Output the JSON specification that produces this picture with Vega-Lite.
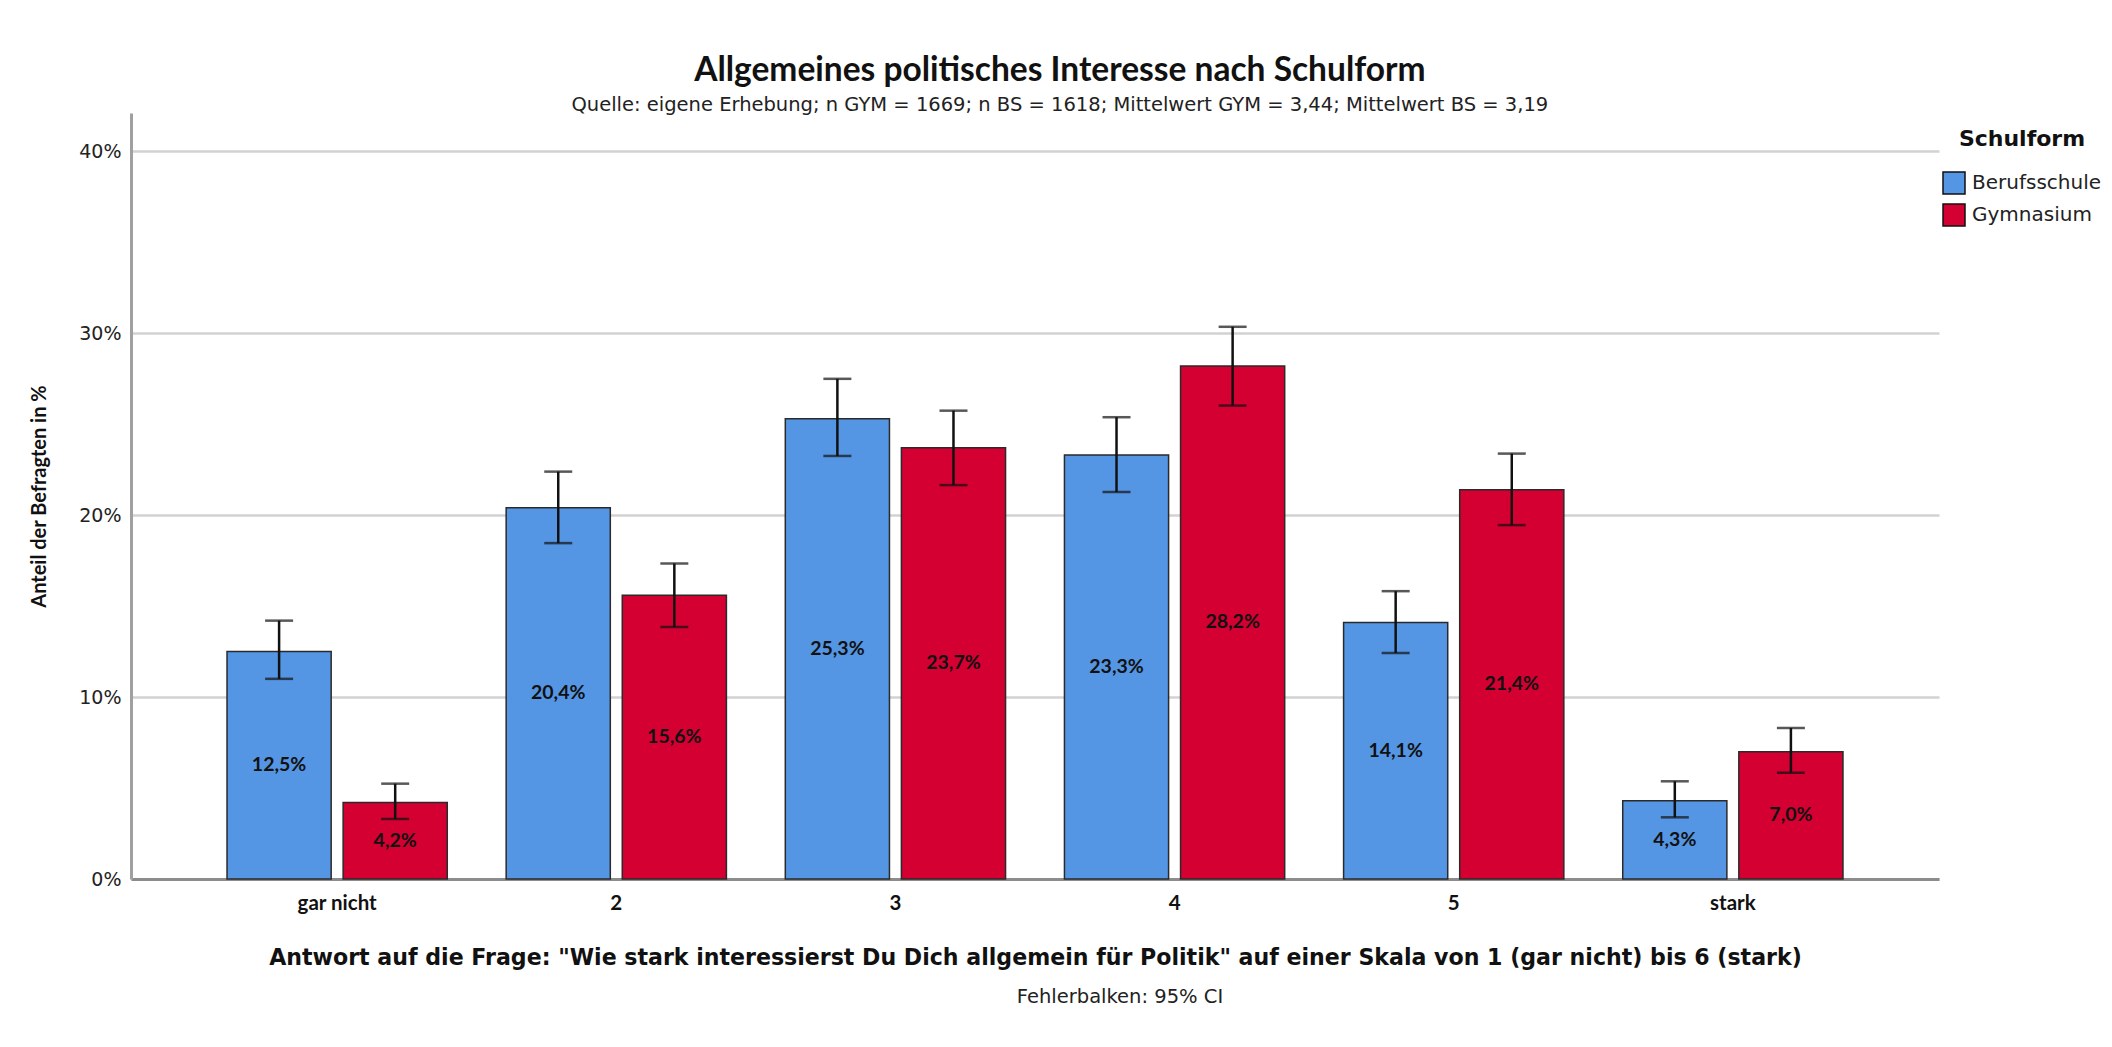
{
  "$schema": "https://vega.github.io/schema/vega-lite/v6.json",
  "padding": {"left": 29, "top": 53, "right": 8, "bottom": 10},
  "background": "white",
  "config": {
    "locale": {"number": {"decimal": ",", "thousands": ".", "grouping": [3], "currency": ["", " €"]}},
    "view": {"stroke": null},
    "font": "DejaVu Sans"
  },
  "title": {
    "text": "Allgemeines politisches Interesse nach Schulform",
    "subtitle": "Quelle: eigene Erhebung; n GYM = 1669; n BS = 1618; Mittelwert GYM = 3,44; Mittelwert BS = 3,19",
    "anchor": "middle",
    "frame": "bounds",
    "dx": -14,
    "font": "Lato",
    "fontWeight": "bold",
    "fontSize": 33.5,
    "color": "#111111",
    "subtitleFont": "DejaVu Sans",
    "subtitleFontSize": 19.5,
    "subtitleColor": "#222222",
    "subtitlePadding": 7.5,
    "offset": -2
  },
  "vconcat": [
    {
      "width": 1808,
      "height": 766,
      "title": {
        "text": "Fehlerbalken: 95% CI",
        "orient": "bottom",
        "anchor": "middle",
        "frame": "group",
        "dx": 85,
        "offset": 19,
        "font": "DejaVu Sans",
        "fontWeight": "normal",
        "fontSize": 19.5,
        "color": "#222222"
      },
      "data": {
        "values": [
          {"cat": "gar nicht", "school": "Berufsschule", "value": 0.125, "lo": 0.110, "hi": 0.142},
          {"cat": "gar nicht", "school": "Gymnasium", "value": 0.042, "lo": 0.033, "hi": 0.0524},
          {"cat": "2", "school": "Berufsschule", "value": 0.204, "lo": 0.1846, "hi": 0.2239},
          {"cat": "2", "school": "Gymnasium", "value": 0.156, "lo": 0.1385, "hi": 0.1734},
          {"cat": "3", "school": "Berufsschule", "value": 0.253, "lo": 0.2325, "hi": 0.2749},
          {"cat": "3", "school": "Gymnasium", "value": 0.237, "lo": 0.2165, "hi": 0.2574},
          {"cat": "4", "school": "Berufsschule", "value": 0.233, "lo": 0.2127, "hi": 0.2538},
          {"cat": "4", "school": "Gymnasium", "value": 0.282, "lo": 0.2602, "hi": 0.3035},
          {"cat": "5", "school": "Berufsschule", "value": 0.141, "lo": 0.1242, "hi": 0.1582},
          {"cat": "5", "school": "Gymnasium", "value": 0.214, "lo": 0.1945, "hi": 0.2338},
          {"cat": "stark", "school": "Berufsschule", "value": 0.043, "lo": 0.0339, "hi": 0.0537},
          {"cat": "stark", "school": "Gymnasium", "value": 0.070, "lo": 0.0584, "hi": 0.0830}
        ]
      },
      "encoding": {
        "x": {
          "field": "cat",
          "type": "nominal",
          "scale": {"domain": ["gar nicht", "2", "3", "4", "5", "stark"], "paddingInner": 0.211, "paddingOuter": 0.344},
          "axis": {
            "title": "Antwort auf die Frage: \"Wie stark interessierst Du Dich allgemein für Politik\" auf einer Skala von 1 (gar nicht) bis 6 (stark)",
            "titleFont": "DejaVu Sans",
            "titleFontWeight": "bold",
            "titleFontSize": 22.1,
            "titleColor": "#111111",
            "titlePadding": 34,
            "labelAngle": 0,
            "labelFont": "Lato",
            "labelFontWeight": "bold",
            "labelFontSize": 20.5,
            "labelColor": "#111111",
            "labelPadding": 14,
            "ticks": false,
            "tickSize": 0,
            "domainColor": "#8c8c8c",
            "domainWidth": 3,
            "grid": false
          }
        },
        "xOffset": {
          "field": "school",
          "type": "nominal",
          "scale": {"domain": ["Berufsschule", "Gymnasium"], "paddingInner": 0.103, "paddingOuter": 0}
        }
      },
      "layer": [
        {
          "mark": {"type": "bar", "stroke": "#2a2a2a", "strokeWidth": 1.5},
          "encoding": {
            "y": {
              "field": "value",
              "type": "quantitative",
              "scale": {"domain": [0, 0.421], "nice": false},
              "axis": {
                "title": "Anteil der Befragten in %",
                "titleFont": "Lato",
                "titleFontWeight": "bold",
                "titleFontSize": 20,
                "titleColor": "#111111",
                "titlePadding": 29,
                "values": [0, 0.1, 0.2, 0.3, 0.4],
                "format": ".0%",
                "labelFont": "DejaVu Sans",
                "labelFontSize": 19,
                "labelColor": "#222222",
                "labelPadding": 10,
                "ticks": false,
                "tickSize": 0,
                "domainColor": "#a0a0a0",
                "domainWidth": 3,
                "grid": true,
                "gridColor": "#d2d2d2",
                "gridWidth": 2.5
              }
            },
            "color": {
              "field": "school",
              "type": "nominal",
              "scale": {"domain": ["Berufsschule", "Gymnasium"], "range": ["#5596E4", "#D40031"]},
              "legend": {
                "title": "Schulform",
                "orient": "right",
                "offset": -13,
                "padding": 16,
                "titleFont": "DejaVu Sans",
                "titleFontWeight": "bold",
                "titleFontSize": 22,
                "titleColor": "#111111",
                "titleAnchor": "middle",
                "titlePadding": 20,
                "labelFont": "DejaVu Sans",
                "labelFontSize": 20,
                "labelColor": "#222222",
                "labelOffset": 6,
                "symbolType": "square",
                "symbolSize": 484,
                "symbolStrokeColor": "#111111",
                "symbolStrokeWidth": 1.5,
                "rowPadding": 4
              }
            }
          }
        },
        {
          "mark": {"type": "rule", "color": "#111111", "strokeWidth": 2.5},
          "encoding": {
            "y": {"field": "lo", "type": "quantitative"},
            "y2": {"field": "hi"}
          }
        },
        {
          "mark": {"type": "tick", "color": "#111111", "thickness": 2.5, "size": 28},
          "encoding": {"y": {"field": "lo", "type": "quantitative"}}
        },
        {
          "mark": {"type": "tick", "color": "#111111", "thickness": 2.5, "size": 28},
          "encoding": {"y": {"field": "hi", "type": "quantitative"}}
        },
        {
          "transform": [{"calculate": "datum.value / 2", "as": "mid"}],
          "mark": {"type": "text", "font": "Lato", "fontWeight": "bold", "fontSize": 19.5, "color": "#111111", "baseline": "middle", "align": "center"},
          "encoding": {
            "y": {"field": "mid", "type": "quantitative"},
            "text": {"field": "value", "type": "quantitative", "format": ".1%"}
          }
        }
      ]
    }
  ]
}
